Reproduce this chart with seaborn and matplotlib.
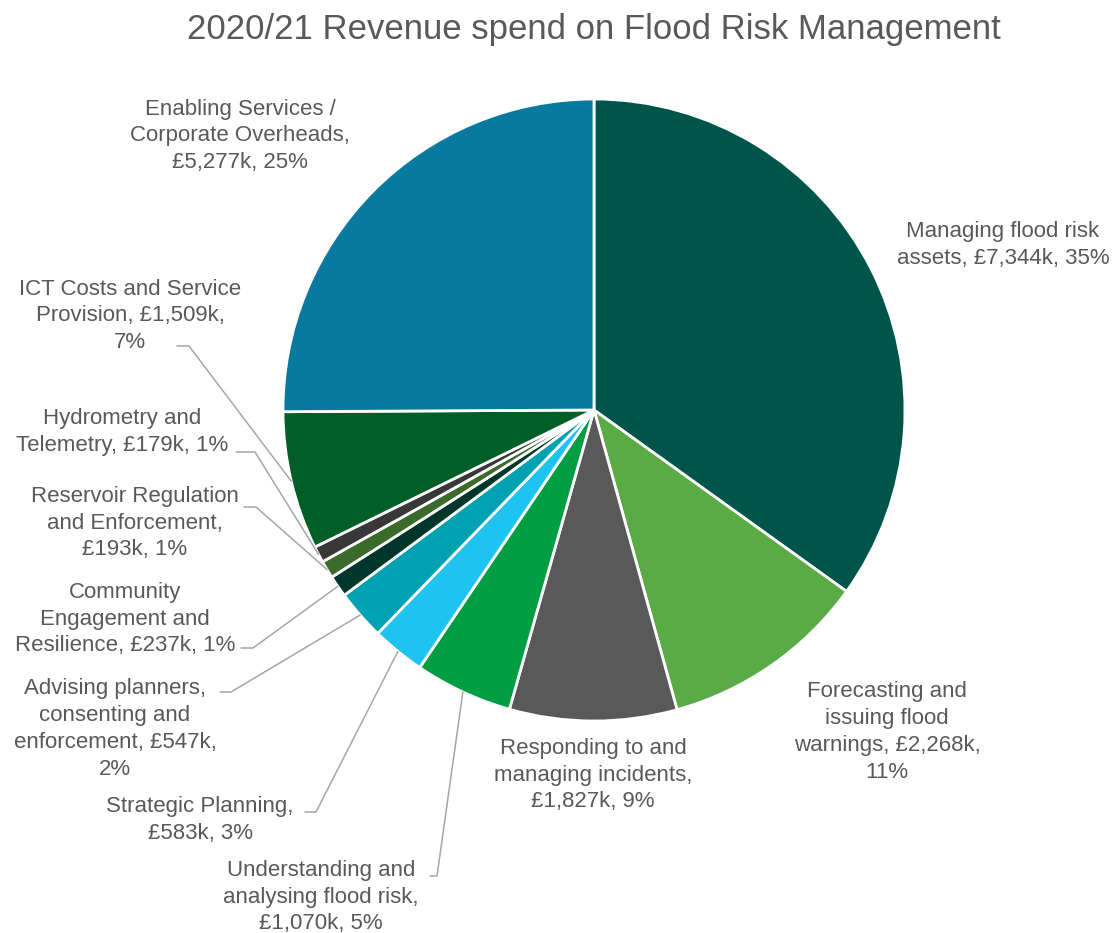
import numpy as np
import seaborn as sns
import matplotlib.pyplot as plt

sns.set_theme(style="white")
plt.rcParams['font.family'] = ['Liberation Sans', 'DejaVu Sans']

categories = [
    "Managing flood risk assets",
    "Forecasting and issuing flood warnings",
    "Responding to and managing incidents",
    "Understanding and analysing flood risk",
    "Strategic Planning",
    "Advising planners, consenting and enforcement",
    "Community Engagement and Resilience",
    "Reservoir Regulation and Enforcement",
    "Hydrometry and Telemetry",
    "ICT Costs and Service Provision",
    "Enabling Services / Corporate Overheads",
]
spend_k = [7344, 2268, 1827, 1070, 583, 547, 237, 193, 179, 1509, 5277]
percent_labels = ["35%", "11%", "9%", "5%", "3%", "2%", "1%", "1%", "1%", "7%", "25%"]
label_texts = [
    "Managing flood risk\nassets, £7,344k, 35%",
    "Forecasting and\nissuing flood\nwarnings, £2,268k,\n11%",
    "Responding to and\nmanaging incidents,\n£1,827k, 9%",
    "Understanding and\nanalysing flood risk,\n£1,070k, 5%",
    "Strategic Planning,\n£583k, 3%",
    "Advising planners,\nconsenting and\nenforcement, £547k,\n2%",
    "Community\nEngagement and\nResilience, £237k, 1%",
    "Reservoir Regulation\nand Enforcement,\n£193k, 1%",
    "Hydrometry and\nTelemetry, £179k, 1%",
    "ICT Costs and Service\nProvision, £1,509k,\n7%",
    "Enabling Services /\nCorporate Overheads,\n£5,277k, 25%",
]
colors = ["#00554a", "#5aab46", "#595959", "#009e42", "#1fc3f0", "#00a1b0",
          "#00372a", "#3b6b2a", "#383838", "#005e27", "#08799f"]

W, H = 1117, 933
cx, cy, R = 594, H - 410, 311

# label centre (x, y from top) and leader elbow points (None = no leader)
label_pos = [(1003, 245), (887, 732), (593, 775), (321, 897), (200, 820),
             (115, 729), (125, 619), (135, 523), (122, 432), (130, 316), (240, 136)]
leaders = [None, None, None,
           [(430, 876), (437, 876)],
           [(305, 812), (316, 812)],
           [(220, 692), (231, 692)],
           [(241, 648), (253, 648)],
           [(244, 507), (256, 507)],
           [(236, 452), (255, 452)],
           [(177, 346), (189, 346)],
           None]

fig = plt.figure(figsize=(W / 100, H / 100), dpi=100)
ax = fig.add_axes([0, 0, 1, 1])
ax.pie(spend_k, colors=colors, startangle=90, counterclock=False,
       center=(cx, cy), radius=R,
       wedgeprops=dict(edgecolor="white", linewidth=2))
ax.set_xlim(0, W)
ax.set_ylim(0, H)
ax.set_aspect("equal")
ax.axis("off")

total = sum(spend_k)
cum = np.cumsum([0] + spend_k)
for i, txt in enumerate(label_texts):
    lx, ly = label_pos[i]
    ax.text(lx, H - ly, txt, ha="center", va="center", fontsize=16,
            color="#595959", linespacing=1.36)
    if leaders[i] is not None:
        mid = (cum[i] + spend_k[i] / 2) / total * 2 * np.pi
        ex = cx + R * np.sin(mid)
        ey = cy + R * np.cos(mid)
        pts = leaders[i]
        xs = [p[0] for p in pts] + [ex]
        ys = [H - p[1] for p in pts] + [ey]
        ax.plot(xs, ys, color="#a6a6a6", linewidth=1.1)

ax.text(594, H - 30, "2020/21 Revenue spend on Flood Risk Management",
        ha="center", va="center", fontsize=25, color="#595959")

fig.savefig("out.png", dpi=100)
